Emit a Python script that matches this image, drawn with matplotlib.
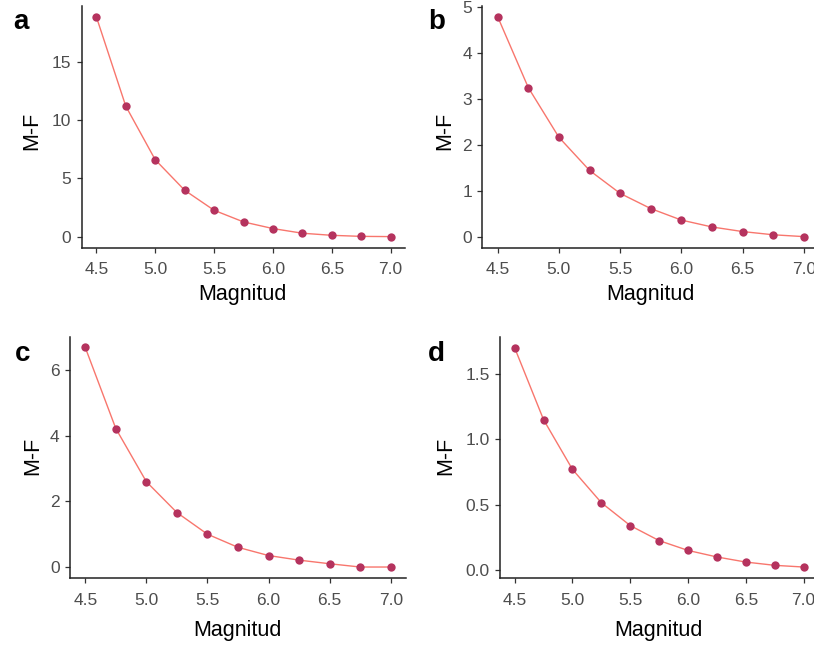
import matplotlib
matplotlib.use("Agg")
import matplotlib.pyplot as plt
import numpy as np

plt.rcParams['font.family'] = ['Liberation Sans', 'DejaVu Sans']

magnitud = [4.5, 4.75, 5.0, 5.25, 5.5, 5.75, 6.0, 6.25, 6.5, 6.75, 7.0]
mf_a = [18.87, 11.2, 6.6, 3.98, 2.26, 1.26, 0.69, 0.29, 0.11, 0.02, 0.0]
mf_b = [4.78, 3.24, 2.16, 1.44, 0.94, 0.61, 0.36, 0.21, 0.11, 0.04, 0.0]
mf_c = [6.69, 4.22, 2.60, 1.66, 1.00, 0.60, 0.35, 0.21, 0.10, 0.0, 0.0]
mf_d = [1.70, 1.15, 0.77, 0.515, 0.34, 0.225, 0.15, 0.10, 0.061, 0.036, 0.023]

xticks = [4.5, 5.0, 5.5, 6.0, 6.5, 7.0]
xtick_labels = ["4.5", "5.0", "5.5", "6.0", "6.5", "7.0"]
yticks_a = [0, 5, 10, 15]
yticks_b = [0, 1, 2, 3, 4, 5]
yticks_c = [0, 2, 4, 6]
yticks_d = [0.0, 0.5, 1.0, 1.5]
ytick_labels_d = ["0.0", "0.5", "1.0", "1.5"]
panel_letters = ["a", "b", "c", "d"]
xlabel = "Magnitud"
ylabel = "M-F"

W, H = 814, 646
fig = plt.figure(figsize=(W / 100, H / 100), dpi=100)

def px_rect(left, top, right, bottom):
    return [left / W, 1 - bottom / H, (right - left) / W, (bottom - top) / H]

# pixel boxes: left, top, right, bottom
boxes = [
    (81.6, 5.7, 405.4, 247.6),
    (482.4, 5.8, 819.0, 247.6),
    (70.0, 336.5, 406.0, 578.0),
    (500.2, 336.8, 818.1, 578.0),
]
series = [mf_a, mf_b, mf_c, mf_d]
yticks_all = [yticks_a, yticks_b, yticks_c, yticks_d]
ylabels_txt = [None, None, None, ytick_labels_d]
letter_pos = [(13, 29), (428, 29), (15, 361), (428, 361)]
ylab_pos = [(37.5, 131), (450.5, 131), (38, 456), (451, 456)]
xlab_pos = [(242.5, 300), (650, 300), (237.5, 636), (658, 636)]

line_col = "#F8766D"
pt_col = "#B5335E"
tick_col = "#4D4D4D"

for i in range(4):
    ax = fig.add_axes(px_rect(*boxes[i]))
    y = series[i]
    ax.plot(magnitud, y, color=line_col, lw=1.0, zorder=2)
    ax.scatter(magnitud, y, s=36, color=pt_col, zorder=3, linewidths=0)
    ax.set_xlim(4.5 - 0.125, 7.0 + 0.125)
    ymin, ymax = min(y), max(y)
    pad = 0.05 * (ymax - ymin)
    ax.set_ylim(ymin - pad, ymax + pad)
    ax.set_xticks(xticks)
    ax.set_xticklabels(xtick_labels)
    ax.set_yticks(yticks_all[i])
    if ylabels_txt[i] is not None:
        ax.set_yticklabels(ylabels_txt[i])
    for s in ["top", "right"]:
        ax.spines[s].set_visible(False)
    for s in ["left", "bottom"]:
        ax.spines[s].set_linewidth(1.1)
        ax.spines[s].set_color("#222222")
    ax.tick_params(axis="both", length=3.5, width=0.9, color="#333333",
                   labelcolor=tick_col, labelsize=12.5)
    ax.tick_params(axis="x", pad=7)
    ax.tick_params(axis="y", pad=4)
    ax.set_facecolor("white")
    lx, ly = letter_pos[i]
    fig.text(lx / W, 1 - ly / H, panel_letters[i], fontsize=20, fontweight="bold",
             ha="left", va="baseline")
    yx, yy = ylab_pos[i]
    fig.text(yx / W, 1 - yy / H, ylabel, fontsize=15.5, rotation=90,
             rotation_mode="anchor", ha="center", va="baseline")
    xx, xy = xlab_pos[i]
    fig.text(xx / W, 1 - xy / H, xlabel, fontsize=15.5, ha="center", va="baseline")

fig.savefig("out.png", dpi=100, facecolor="white")
